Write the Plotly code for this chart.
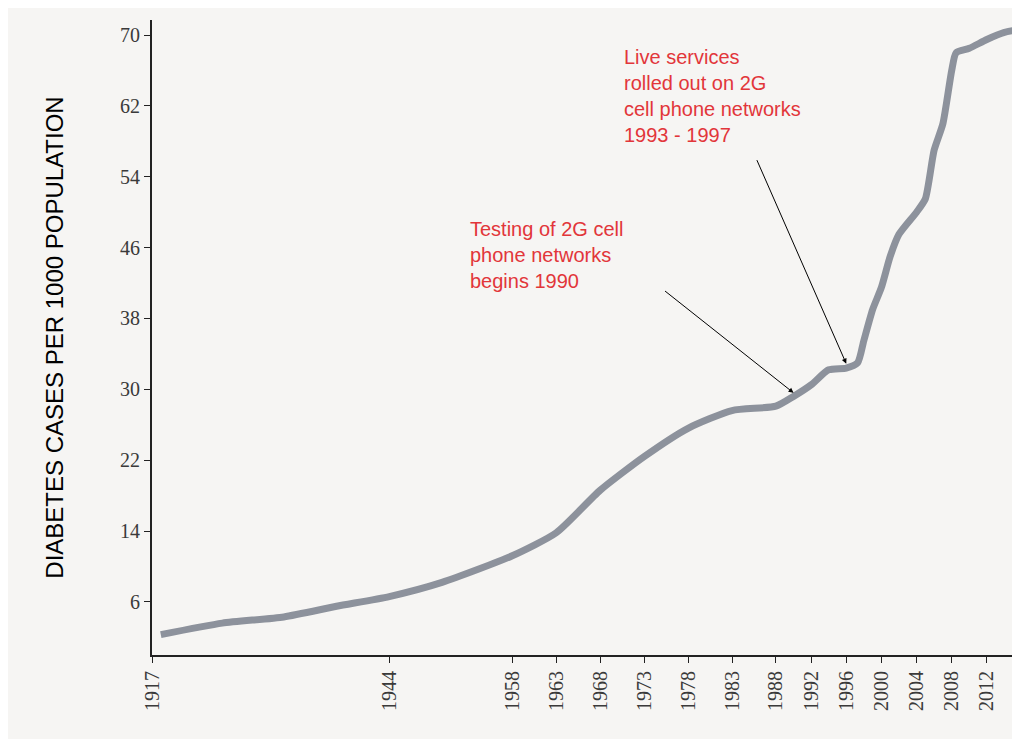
import plotly.graph_objects as go

# diabetes cases per 1000 population
years = [1918, 1925, 1932, 1938, 1944, 1950, 1958, 1963, 1968, 1973, 1978, 1983,
         1988, 1990, 1992, 1994, 1996, 1997.3, 1998, 1999, 2000, 2001, 2002, 2004,
         2005, 2006, 2007, 2008, 2008.5, 2010, 2012, 2014, 2015.5]
cases = [2.3, 3.6, 4.3, 5.5, 6.6, 8.2, 11.2, 13.8, 18.6, 22.4, 25.6, 27.6,
         28.1, 29.2, 30.5, 32.2, 32.4, 33.0, 35.5, 39.0, 41.5, 45.0, 47.5, 50.0,
         51.5, 57.0, 60.0, 66.0, 68.0, 68.5, 69.5, 70.3, 70.6]

x_ticks = [1917, 1944, 1958, 1963, 1968, 1973, 1978, 1983, 1988, 1992, 1996, 2000, 2004, 2008, 2012, 2016]
y_ticks = [6, 14, 22, 30, 38, 46, 54, 62, 70]

W, H = 1020, 739
L, R, T, B = 144, 6, 12, 92
pw, ph = W - L - R, H - T - B
OFF = 8  # page offset of the figure


def px(x, y):
    # pixel position in the window -> paper coordinates
    return (x - OFF - L) / pw, (H - B - (y - OFF)) / ph


fig = go.Figure()
fig.add_trace(go.Scatter(
    x=years, y=cases, mode='lines',
    line=dict(color='#8d929c', width=7, shape='spline', smoothing=0.6),
    showlegend=False, hoverinfo='skip'
))

red = dict(family='Liberation Sans, Arial', size=20, color='#e2363a')
for txt, (tx, ty) in [
    ("Testing of 2G cell<br>phone networks<br>begins 1990", (468, 216)),
    ("Live services<br>rolled out on 2G<br>cell phone networks<br>1993 - 1997", (622, 44)),
]:
    xp, yp = px(tx, ty)
    fig.add_annotation(x=xp, y=yp, xref='paper', yref='paper', text=txt, showarrow=False,
                       xanchor='left', yanchor='top', align='left', font=red)

fig.add_annotation(x=1990, y=29.6, ax=-130, ay=-103, text='', showarrow=True,
                   arrowhead=2, arrowsize=1, arrowwidth=1, arrowcolor='black')
fig.add_annotation(x=1996, y=32.9, ax=-90, ay=-205, text='', showarrow=True,
                   arrowhead=2, arrowsize=1, arrowwidth=1, arrowcolor='black')

fig.update_layout(
    width=W, height=H,
    margin=dict(l=L, r=R, t=T, b=B),
    paper_bgcolor='#f6f5f3', plot_bgcolor='#f6f5f3',
    font=dict(family='Liberation Serif, Times New Roman', size=20, color='#3a3a3a'),
    xaxis=dict(range=[1917, 2016], tickvals=x_ticks, tickangle=-90, showgrid=False,
               zeroline=False, showline=True, linecolor='#222', linewidth=2,
               ticks='outside', ticklen=6, tickcolor='#222'),
    yaxis=dict(range=[0, 71.7], tickvals=y_ticks, showgrid=False, zeroline=False,
               showline=True, linecolor='#222', linewidth=2,
               ticks='outside', ticklen=6, tickcolor='#222',
               title=dict(text='DIABETES CASES PER 1000 POPULATION', standoff=50,
                          font=dict(family='Liberation Sans, Arial', size=24, color='black'))),
)

fig.write_html("out.html")
